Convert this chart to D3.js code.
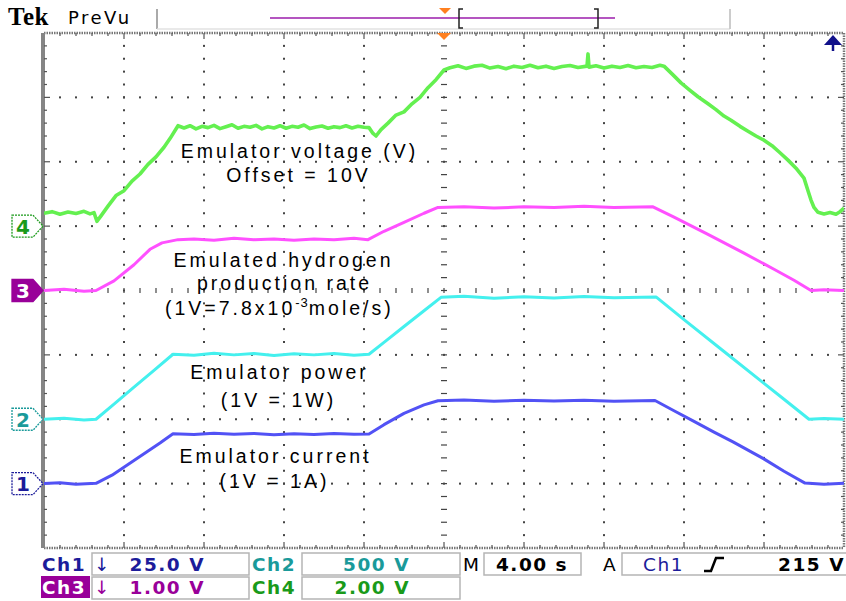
<!DOCTYPE html>
<html><head><meta charset="utf-8">
<script src="https://cdn.jsdelivr.net/npm/d3@7"></script>
<style>body{margin:0;background:#fff}svg{display:block}</style>
</head><body>
<svg id="c" width="846" height="601"></svg>
<script>
// ---------- DATA ----------
const timeDomain = [0, 40];           // seconds (4.00 s/div, 10 div)
const divisionsX = 10, divisionsY = 8;

// Ch1: emulator current (V at 25.0 V/div)
const ch1Current = [[0,0],[0.8,0.3],[1.6,-0.2],[2.6,0.1],[3.4,3.3],[4.2,7.4],[5.0,11.6],[5.8,15.8],[6.45,19.4],
 [7.5,19.1],[8.5,19.6],[9.5,19.2],[10.5,19.5],[11.5,19.0],[12.5,19.4],[13.5,19.1],[14.5,19.5],[15.5,19.2],[16.25,19.3],
 [17.0,22.9],[18.0,27.3],[19.0,30.6],[19.7,32.2],
 [21,32.5],[22.5,32.0],[24,32.4],[25.5,32.1],[27,32.4],[28.5,32.0],[30.55,32.3],
 [31.5,28.3],[32.5,24.2],[33.5,20.0],[34.45,16.2],[35.2,13.0],[35.95,9.8],[37,4.8],[38.05,0.2],[39,-0.2],[40,0.1]];

// Ch2: emulator power (V at 500 V/div)
const ch2Power = [[0,0],[1,8],[2,-6],[2.6,0],[3.5,118],[4.5,249],[5.5,380],[6.45,505],
 [7.5,498],[8.5,512],[9.5,500],[10.5,510],[11.5,496],[12.5,508],[13.5,500],[14.5,510],[15.5,498],[16.25,505],
 [17,597],[18,720],[19,843],[19.85,947],
 [21,955],[22.5,940],[24,952],[25.5,942],[27,954],[28.5,944],[30.6,950],
 [32,774],[34,526],[36,279],[37,155],[38.25,0],[39,5],[40,0]];

// Ch3: emulated hydrogen production rate (V at 1.00 V/div)
const ch3Hydrogen = [[0,0],[1,0.02],[2,-0.01],[2.6,0],[3.5,0.15],[4.5,0.40],[5.3,0.64],[5.9,0.74],[6.7,0.79],
 [7.5,0.80],[8.5,0.78],[9.5,0.81],[10.5,0.79],[11.5,0.80],[12.5,0.78],[13.5,0.80],[14.5,0.79],[15.5,0.81],[16.2,0.79],
 [17,0.92],[18,1.06],[19,1.20],[19.7,1.29],
 [21,1.30],[22.5,1.28],[24,1.30],[25.5,1.29],[27,1.31],[28.5,1.29],[30.45,1.30],
 [31.5,1.14],[33.15,0.88],[35,0.58],[36.5,0.33],[37.5,0.16],[38.35,0],[39,0.01],[40,0]];

// Ch4: emulator voltage (V at 2.00 V/div, offset 10 V)
const ch4Voltage = [[0,10.40],[0.4,10.45],[0.8,10.37],[1.2,10.44],[1.6,10.39],[2.0,10.46],[2.3,10.38],[2.5,10.42],[2.65,10.15],[2.85,10.32],
 [3.2,10.62],[3.6,10.95],[4.0,11.10],[4.4,11.40],[4.8,11.62],[5.2,11.92],[5.6,12.15],[6.0,12.45],[6.3,12.72],[6.7,13.12],
 [7.0,13.05],[7.3,13.12],[7.6,13.02],[7.9,13.10],[8.2,13.06],[8.5,13.13],[8.8,13.03],[9.1,13.09],[9.4,13.15],[9.7,13.04],
 [10.0,13.10],[10.3,13.07],[10.6,13.13],[10.9,13.02],[11.2,13.09],[11.5,13.05],[11.8,13.12],[12.1,13.04],[12.4,13.10],
 [12.7,13.07],[13.0,13.14],[13.3,13.03],[13.6,13.08],[13.9,13.11],[14.2,13.04],[14.5,13.09],[14.8,13.06],[15.1,13.12],
 [15.4,13.05],[15.7,13.10],[16.0,13.07],[16.25,13.06],[16.45,12.88],[16.6,12.80],[16.85,13.00],[17.2,13.20],[17.6,13.45],
 [18.0,13.55],[18.4,13.80],[18.8,14.00],[19.2,14.30],[19.6,14.55],[20.0,14.85],
 [20.3,14.92],[20.7,14.98],[21.1,14.90],[21.5,14.97],[21.9,15.00],[22.3,14.91],[22.7,14.96],[23.1,14.89],[23.5,14.97],
 [23.9,14.93],[24.3,15.00],[24.7,14.92],[25.1,14.97],[25.5,14.90],[25.9,14.96],[26.3,14.99],[26.7,14.93],[27.15,14.97],
 [27.2,15.35],[27.25,14.94],[27.6,14.98],[28.0,14.91],[28.4,14.97],[28.8,14.93],[29.2,14.99],[29.6,14.92],[30.0,14.96],
 [30.4,14.93],[30.8,15.00],[31.0,14.97],
 [31.45,14.70],[31.85,14.45],[32.3,14.22],[32.7,14.02],[33.2,13.80],[33.6,13.62],[34.0,13.42],[34.35,13.29],[34.8,13.10],
 [35.2,12.95],[35.6,12.80],[36.0,12.67],[36.4,12.50],[36.8,12.28],[37.2,12.05],[37.6,11.80],[38.0,11.49],[38.2,11.10],
 [38.35,10.81],[38.5,10.58],[38.7,10.43],[39.0,10.38],[39.3,10.42],[39.6,10.37],[39.8,10.45],[40,10.56]];

const channelIds = ["1","2","3","4"];
const voltsPerDiv = [25, 500, 1, 2];
const channelOffsets = [0, 0, 0, 10];
const channelGroundDiv = [-3, -2, 0, 1];

const labelVoltage = ["Emulator voltage (V)", "Offset = 10V"];
const labelHydrogen = ["Emulated hydrogen", "production rate", "(1V=7.8x10", "-3", "mole/s)"];
const labelPower = ["Emulator power", "(1V = 1W)"];
const labelCurrent = ["Emulator current", "(1V = 1A)"];

const statusRow1 = ["Ch1", "25.0 V", "Ch2", "500 V", "M", "4.00 s", "A", "Ch1", "215 V"];
const statusRow2 = ["Ch3", "1.00 V", "Ch4", "2.00 V"];

// ---------- LAYOUT ----------
const svg = d3.select("#c");
const L = 44, R = 844, T = 33, B = 548;
const x = d3.scaleLinear().domain(timeDomain).range([L, R]);
const xDiv = d3.scaleLinear().domain([0, divisionsX]).range([L, R]);
const yDiv = d3.scaleLinear().domain([-divisionsY/2, divisionsY/2]).range([B, T]);
const chY = channelIds.map((c, i) => d3.scaleLinear()
  .domain([channelOffsets[i], channelOffsets[i] + voltsPerDiv[i]])
  .range([yDiv(channelGroundDiv[i]), yDiv(channelGroundDiv[i] + 1)]));

const colors = {tr1:"#5252f5", tr2:"#44f0ee", tr3:"#ff50ff", tr4:"#64f050",
  m1:"#1c1c9a", m2:"#1a9a9a", m3:"#990099", m4:"#1a9a1a"};

// ---------- HEADER ----------
svg.append("text").attr("x", 8).attr("y", 25).text("Tek")
  .attr("font-family", "Liberation Serif").attr("font-weight", "bold").attr("font-size", 25)
  .attr("letter-spacing", 0.5).attr("fill", "#000");
svg.append("text").attr("x", 68).attr("y", 24).text("PreVu")
  .attr("font-family", "DejaVu Sans").attr("font-size", 18).attr("letter-spacing", 2.5).attr("fill", "#000");
svg.append("line").attr("x1", 157).attr("x2", 157).attr("y1", 9).attr("y2", 29).attr("stroke", "#aaa").attr("stroke-width", 2);
svg.append("line").attr("x1", 157).attr("x2", 730).attr("y1", 29).attr("y2", 29).attr("stroke", "#e2e2e2").attr("stroke-width", 1.5);
svg.append("line").attr("x1", 730).attr("x2", 730).attr("y1", 9).attr("y2", 29).attr("stroke", "#ccc").attr("stroke-width", 2);
svg.append("line").attr("x1", 270).attr("x2", 615).attr("y1", 18).attr("y2", 18).attr("stroke", "#b455c0").attr("stroke-width", 2);
svg.append("path").attr("d", "M439,8 L451,8 L445,14 Z").attr("fill", "#ff8020");
svg.append("path").attr("d", "M463,9 L459,9 L459,28 L463,28").attr("fill", "none").attr("stroke", "#222").attr("stroke-width", 1.5);
svg.append("path").attr("d", "M594,9 L598,9 L598,28 L594,28").attr("fill", "none").attr("stroke", "#222").attr("stroke-width", 1.5);

// ---------- GRATICULE ----------
const g = svg.append("g");
for (let i = 1; i < divisionsX; i++) {
  if (i === divisionsX/2) continue;
  const xx = xDiv(i);
  for (let k = 1; k < divisionsY*5; k++) {
    g.append("rect").attr("x", xx - 1).attr("y", yDiv(-4 + k/5) - 1).attr("width", 2).attr("height", 2).attr("fill", "#444");
  }
}
for (let j = -3; j < 4; j++) {
  if (j === 0) continue;
  const yy = yDiv(j);
  for (let k = 1; k < divisionsX*5; k++) {
    g.append("rect").attr("x", xDiv(k/5) - 1).attr("y", yy - 1).attr("width", 2).attr("height", 2).attr("fill", "#444");
  }
}
for (let k = 1; k < divisionsX*5; k++) {
  const xx = xDiv(k/5);
  g.append("line").attr("x1", xx).attr("x2", xx).attr("y1", yDiv(0) - 2.5).attr("y2", yDiv(0) + 2.5).attr("stroke", "#444").attr("stroke-width", 1.2);
}
for (let k = 1; k < divisionsY*5; k++) {
  const yy = yDiv(-4 + k/5);
  g.append("line").attr("x1", xDiv(5) - 3).attr("x2", xDiv(5) + 3).attr("y1", yy).attr("y2", yy).attr("stroke", "#444").attr("stroke-width", 1.2);
}
g.append("line").attr("x1", L).attr("x2", R).attr("y1", T).attr("y2", T).attr("stroke", "#777").attr("stroke-width", 2.5).attr("stroke-dasharray", "1.5,1");
g.append("line").attr("x1", L).attr("x2", R).attr("y1", B).attr("y2", B).attr("stroke", "#777").attr("stroke-width", 2.5).attr("stroke-dasharray", "1.5,1");
g.append("line").attr("x1", R).attr("x2", R).attr("y1", T).attr("y2", B).attr("stroke", "#777").attr("stroke-width", 2.5).attr("stroke-dasharray", "1.5,1");
g.append("rect").attr("x", L - 3).attr("y", T).attr("width", 4).attr("height", B - T).attr("fill", "#858585");
for (let k = 1; k < divisionsX*5; k++) {
  const xx = xDiv(k/5), len = (k % 5 === 0) ? 6 : 3;
  g.append("line").attr("x1", xx).attr("x2", xx).attr("y1", T).attr("y2", T + len).attr("stroke", "#555").attr("stroke-width", 1.2);
  g.append("line").attr("x1", xx).attr("x2", xx).attr("y1", B).attr("y2", B - len).attr("stroke", "#555").attr("stroke-width", 1.2);
}
for (let k = 1; k < divisionsY*5; k++) {
  const yy = yDiv(-4 + k/5), len = (k % 5 === 0) ? 6 : 3;
  g.append("line").attr("x1", L).attr("x2", L + len).attr("y1", yy).attr("y2", yy).attr("stroke", "#555").attr("stroke-width", 1.2);
  g.append("line").attr("x1", R).attr("x2", R - len).attr("y1", yy).attr("y2", yy).attr("stroke", "#555").attr("stroke-width", 1.2);
}
svg.append("path").attr("d", `M${xDiv(5)-7},${T} L${xDiv(5)+7},${T} L${xDiv(5)},${T+7} Z`).attr("fill", "#ff8020");
svg.append("path").attr("d", "M824,45 L842,45 L833,35 Z").attr("fill", "#10108a");
svg.append("line").attr("x1", 833).attr("x2", 833).attr("y1", 44).attr("y2", 51).attr("stroke", "#10108a").attr("stroke-width", 2.5);

// ---------- TRACES ----------
svg.append("clipPath").attr("id", "clip").append("rect").attr("x", L).attr("y", T).attr("width", R - L).attr("height", B - T);
const traces = svg.append("g").attr("clip-path", "url(#clip)");
const series = [ch1Current, ch2Power, ch3Hydrogen, ch4Voltage];
const widths = [3, 3, 3, 3.6];
series.forEach((data, i) => {
  const line = d3.line().x(d => x(d[0])).y(d => chY[i](d[1]));
  traces.append("path").datum(data).attr("d", line).attr("fill", "none")
    .attr("stroke", colors["tr" + (i + 1)]).attr("stroke-width", widths[i]).attr("stroke-linejoin", "round");
});

// ---------- CHANNEL MARKERS ----------
channelIds.forEach((id, i) => {
  const yy = yDiv(channelGroundDiv[i]);
  const col = colors["m" + (i + 1)];
  const filled = id === "3";
  svg.append("path").attr("d", `M12,${yy-11} L33,${yy-11} L43,${yy} L33,${yy+11} L12,${yy+11} Z`)
    .attr("fill", filled ? col : "#fff").attr("stroke", col).attr("stroke-width", 1.3)
    .attr("stroke-dasharray", filled ? null : "2,1");
  svg.append("text").attr("x", 23).attr("y", yy + 7.5).attr("text-anchor", "middle").text(id)
    .attr("font-family", "DejaVu Sans").attr("font-weight", "bold").attr("font-size", 20)
    .attr("fill", filled ? "#fff" : col);
});

// ---------- ANNOTATIONS ----------
const annFont = {family: "Liberation Sans", size: 19.5, ls: 3};
function ann(txt, cx, y) {
  return svg.append("text").attr("x", cx + annFont.ls/2).attr("y", y).attr("text-anchor", "middle").text(txt)
    .attr("font-family", annFont.family).attr("font-size", annFont.size).attr("letter-spacing", annFont.ls).attr("fill", "#000");
}
ann(labelVoltage[0], 298, 158);
ann(labelVoltage[1], 297, 182);
ann(labelHydrogen[0], 282, 267);
ann(labelHydrogen[1], 283, 290);
const hy = svg.append("text").attr("x", 165).attr("y", 315)
  .attr("font-family", annFont.family).attr("font-size", annFont.size).attr("letter-spacing", annFont.ls).attr("fill", "#000");
hy.append("tspan").text(labelHydrogen[2]);
hy.append("tspan").text(labelHydrogen[3]).attr("dy", -8).attr("font-size", 13).attr("letter-spacing", 1);
hy.append("tspan").text(labelHydrogen[4]).attr("dy", 8);
ann(labelPower[0], 278, 379);
ann(labelPower[1], 277, 407);
ann(labelCurrent[0], 274, 463);
ann(labelCurrent[1], 273, 488);

// ---------- STATUS BAR ----------
const sb = svg.append("g").attr("font-family", "DejaVu Sans").attr("font-weight", "bold").attr("font-size", 18.5).attr("letter-spacing", 1.5);
function box(x0, y0, w, h) {
  sb.append("rect").attr("x", x0).attr("y", y0).attr("width", w).attr("height", h).attr("fill", "none").attr("stroke", "#b5b5b5").attr("stroke-width", 1.5);
}
function txt(t, x0, y0, col, anchor) {
  return sb.append("text").attr("x", x0).attr("y", y0).text(t).attr("fill", col).attr("text-anchor", anchor || "start");
}
const r1 = 571, r2 = 594;
box(92, 553, 157, 22); box(302, 553, 158, 22); box(484, 553, 97, 22); box(622, 553, 240, 22);
box(92, 577, 157, 22); box(302, 577, 158, 22);
sb.append("rect").attr("x", 41).attr("y", 576).attr("width", 49).attr("height", 22).attr("fill", "#990099");
txt(statusRow1[0], 42, r1, "#1c1c9a");
txt("↓", 94, r1, "#1c1c9a").attr("font-weight", "normal");
txt(statusRow1[1], 205, r1, "#1c1c9a", "end");
txt(statusRow1[2], 252, r1, "#1a9a9a");
txt(statusRow1[3], 410, r1, "#1a9a9a", "end");
txt(statusRow1[4], 463, r1, "#000").attr("font-weight", "normal");
txt(statusRow1[5], 496, r1, "#000");
txt(statusRow1[6], 603, r1, "#000").attr("font-weight", "normal");
txt(statusRow1[7], 643, r1, "#1c1c9a").attr("font-weight", "normal");
sb.append("path").attr("d", "M704,571 L711,571 L716,558 L724,558").attr("fill", "none").attr("stroke", "#000").attr("stroke-width", 2.5);
txt(statusRow1[8], 845, r1, "#000", "end");
txt(statusRow2[0], 42, r2, "#fff");
txt("↓", 94, r2, "#990099").attr("font-weight", "normal");
txt(statusRow2[1], 205, r2, "#990099", "end");
txt(statusRow2[2], 252, r2, "#1a9a1a");
txt(statusRow2[3], 410, r2, "#1a9a1a", "end");
</script>
</body></html>
